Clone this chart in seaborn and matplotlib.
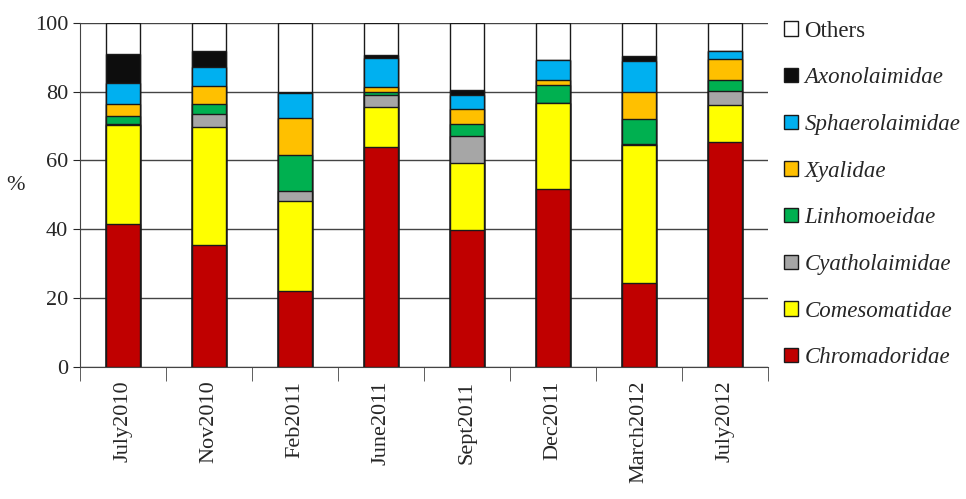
import numpy as np
import pandas as pd
import matplotlib
matplotlib.use("Agg")
import matplotlib.pyplot as plt
from matplotlib.patches import Patch
import seaborn as sns

samples = ["July2010", "Nov2010", "Feb2011", "June2011", "Sept2011", "Dec2011", "March2012", "July2012"]
chromadoridae = [41.5, 35.3, 21.9, 64.0, 39.8, 51.8, 24.3, 65.3]
comesomatidae = [28.8, 34.4, 26.4, 11.7, 19.4, 24.8, 40.3, 10.7]
cyatholaimidae = [0.3, 3.9, 2.7, 3.4, 7.8, 0.0, 0.3, 4.1]
linhomoeidae = [2.4, 2.7, 10.6, 0.9, 3.5, 5.4, 7.2, 3.3]
xyalidae = [3.3, 5.3, 10.7, 1.4, 4.5, 1.5, 7.7, 6.1]
sphaerolaimidae = [6.1, 5.7, 7.3, 8.5, 4.1, 5.7, 9.2, 2.2]
axonolaimidae = [8.7, 4.6, 0.2, 0.8, 1.3, 0.0, 1.5, 0.0]

families = ["Chromadoridae", "Comesomatidae", "Cyatholaimidae", "Linhomoeidae",
            "Xyalidae", "Sphaerolaimidae", "Axonolaimidae"]
values = [chromadoridae, comesomatidae, cyatholaimidae, linhomoeidae,
          xyalidae, sphaerolaimidae, axonolaimidae]
colors = ["#C00000", "#FFFF00", "#A6A6A6", "#00B050", "#FFC000", "#00B0F0", "#0D0D0D"]

df = pd.DataFrame(dict(zip(families, values)), index=samples)
df["Others"] = 100 - df.sum(axis=1)
cum = df.cumsum(axis=1)

sns.set_style("white")
plt.rcParams["font.family"] = ["Liberation Serif", "DejaVu Serif"]

fig, ax = plt.subplots(figsize=(9.66, 4.99), dpi=100)
fig.subplots_adjust(left=0.083, right=0.795, top=0.954, bottom=0.265)

all_names = families + ["Others"]
all_colors = colors + ["white"]
# draw cumulative totals from top to bottom so each layer shows as a stack
for name, color in reversed(list(zip(all_names, all_colors))):
    sns.barplot(x=cum.index, y=cum[name].values, color=color, edgecolor="#1a1a1a",
                linewidth=1.0, width=0.4, saturation=1, ax=ax, zorder=3)

ax.set_ylim(0, 100)
ax.set_xlim(-0.5, len(samples) - 0.5)
ax.set_yticks(range(0, 101, 20))
ax.yaxis.grid(True, color="#444444", linewidth=1.0, zorder=0)
ax.set_axisbelow(True)
for s in ["top", "right"]:
    ax.spines[s].set_visible(False)
for s in ["left", "bottom"]:
    ax.spines[s].set_color("#444444")
ax.set_xlabel("")
ax.set_ylabel("%", fontsize=16, rotation=0, labelpad=14)
ax.tick_params(axis="y", labelsize=16, left=True, length=5)
ax.set_xticks(range(len(samples)))
ax.set_xticklabels(samples, rotation=90, fontsize=16)
ax.tick_params(axis="x", which="major", length=0, pad=10)
ax.set_xticks(np.arange(-0.5, len(samples), 1), minor=True)
ax.tick_params(axis="x", which="minor", length=10, color="#444444", bottom=True)

handles = [Patch(facecolor=c, edgecolor="#1a1a1a", label=n)
           for n, c in zip(all_names, all_colors)][::-1]
leg = fig.legend(handles=handles, loc="upper left", bbox_to_anchor=(0.79, 1.0),
                 frameon=False, fontsize=16.5, labelspacing=1.12, handlelength=0.6,
                 handleheight=0.6, handletextpad=0.3)
for t in leg.get_texts():
    if t.get_text() != "Others":
        t.set_style("italic")

fig.savefig("out.png", dpi=100)
